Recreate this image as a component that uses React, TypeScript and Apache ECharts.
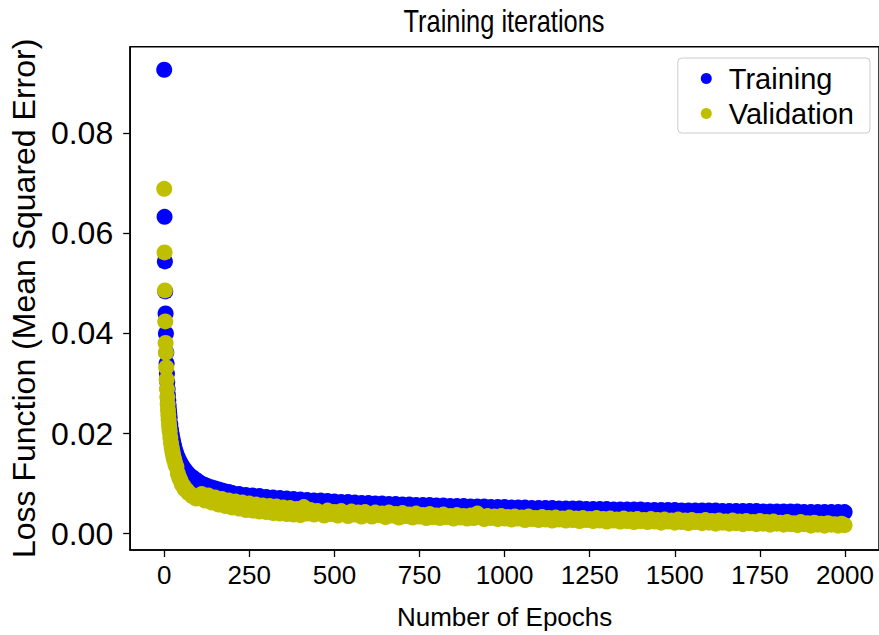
import React, { useEffect, useRef } from "react";
import * as echarts from "echarts";

// Training loss (blue) – epoch / value
const trainEpochs = [
  0, 1, 2, 3, 4, 5, 6, 7, 8, 9, 10, 11, 12, 13, 14, 15, 16, 18, 20, 22, 24, 26, 28, 30, 33, 36, 40, 44, 48, 52, 56, 60, 65, 70, 76, 82, 88, 94,
  100, 110, 120, 130, 140, 150, 160, 170, 180, 190, 200, 220, 240, 260, 280, 300, 320, 340, 360, 380, 400, 420, 440, 460, 480, 500,
  520, 540, 560, 580, 600, 620, 640, 660, 680, 700, 720, 740, 760, 780, 800, 820, 840, 860, 880, 900, 920, 940, 960, 980, 1000,
  1020, 1040, 1060, 1080, 1100, 1120, 1140, 1160, 1180, 1200, 1220, 1240, 1260, 1280, 1300, 1320, 1340, 1360, 1380, 1400,
  1420, 1440, 1460, 1480, 1500, 1520, 1540, 1560, 1580, 1600, 1620, 1640, 1660, 1680, 1700, 1720, 1740, 1760, 1780, 1800,
  1820, 1840, 1860, 1880, 1900, 1920, 1940, 1960, 1980, 1999,
];
const trainLoss = [
  0.0927, 0.0633, 0.0544, 0.0484, 0.044, 0.04, 0.0362, 0.034, 0.032, 0.0303, 0.0289, 0.0277, 0.0266, 0.0256, 0.0247, 0.0239, 0.0232, 0.0219, 0.0208, 0.0199, 0.0191, 0.0184, 0.0178, 0.0172, 0.0165, 0.0159, 0.0152, 0.0146, 0.0141, 0.0136, 0.0132, 0.0128, 0.0124, 0.012, 0.0116, 0.0113, 0.011, 0.0107,
  0.0104, 0.01, 0.0097, 0.0094, 0.0092, 0.009, 0.0088, 0.0086, 0.0084, 0.0083, 0.0081, 0.0079, 0.0077, 0.0076, 0.0075, 0.0073, 0.0072, 0.0071, 0.007, 0.0069, 0.0068, 0.0067, 0.0066, 0.0066, 0.0065, 0.0064,
  0.0063, 0.0063, 0.0062, 0.0061, 0.0061, 0.006, 0.006, 0.0059, 0.0059, 0.0058, 0.0058, 0.0057, 0.0057, 0.0057, 0.0056, 0.0056, 0.0055, 0.0055, 0.0055, 0.0054, 0.0054, 0.0054, 0.0053, 0.0053, 0.0053,
  0.0052, 0.0052, 0.0052, 0.0051, 0.0051, 0.0051, 0.0051, 0.005, 0.005, 0.005, 0.005, 0.0049, 0.0049, 0.0049, 0.0049, 0.0048, 0.0048, 0.0048, 0.0048, 0.0048,
  0.0047, 0.0047, 0.0047, 0.0047, 0.0047, 0.0046, 0.0046, 0.0046, 0.0046, 0.0046, 0.0046, 0.0045, 0.0045, 0.0045, 0.0045, 0.0045, 0.0045, 0.0044, 0.0044, 0.0044,
  0.0044, 0.0044, 0.0044, 0.0043, 0.0043, 0.0043, 0.0043, 0.0043, 0.0043, 0.0043,
];

// Validation loss (olive) – epoch / value
const valEpochs = [
  0, 1, 2, 3, 4, 5, 6, 7, 8, 9, 10, 11, 12, 13, 14, 15, 16, 18, 20, 22, 24, 26, 28, 30, 33, 36, 40, 44, 48, 52, 56, 60, 65, 70, 76, 82, 88, 94,
  100, 110, 120, 130, 140, 150, 160, 170, 180, 190, 200, 210, 220, 230, 240, 250, 260, 270, 280, 290, 300, 310, 320, 330, 340, 350, 360, 370, 380, 390, 400, 410,
  420, 430, 440, 450, 460, 470, 480, 490, 500, 510, 520, 530, 540, 550, 560, 570, 580, 590, 600, 610, 620, 630, 640, 650, 660, 670, 680, 690,
  700, 710, 720, 730, 740, 750, 760, 770, 780, 790, 800, 810, 820, 830, 840, 850, 860, 870, 880, 890, 900, 910, 920, 930, 940, 950, 960, 970, 980, 990,
  1000, 1010, 1020, 1030, 1040, 1050, 1060, 1070, 1080, 1090, 1100, 1110, 1120, 1130, 1140, 1150, 1160, 1170, 1180, 1190,
  1200, 1210, 1220, 1230, 1240, 1250, 1260, 1270, 1280, 1290, 1300, 1310, 1320, 1330, 1340, 1350, 1360, 1370, 1380, 1390,
  1400, 1410, 1420, 1430, 1440, 1450, 1460, 1470, 1480, 1490, 1500, 1510, 1520, 1530, 1540, 1550, 1560, 1570, 1580, 1590,
  1600, 1610, 1620, 1630, 1640, 1650, 1660, 1670, 1680, 1690, 1700, 1710, 1720, 1730, 1740, 1750, 1760, 1770, 1780, 1790,
  1800, 1810, 1820, 1830, 1840, 1850, 1860, 1870, 1880, 1890, 1900, 1910, 1920, 1930, 1940, 1950, 1960, 1970, 1980, 1990, 1999,
];
const valLoss = [
  0.0689, 0.0562, 0.0486, 0.0424, 0.0381, 0.0362, 0.0332, 0.0308, 0.0289, 0.0273, 0.0259, 0.0247, 0.0237, 0.0228, 0.0219, 0.0211, 0.0204, 0.0192, 0.0181, 0.0172, 0.0164, 0.0157, 0.0151, 0.0146, 0.0138, 0.0133, 0.012, 0.0112, 0.0106, 0.0098, 0.0096, 0.0089, 0.0088, 0.0082, 0.008, 0.0075, 0.0074, 0.007,
  0.0072, 0.0079, 0.0066, 0.0076, 0.0062, 0.0072, 0.0058, 0.0069, 0.0055, 0.0066, 0.0052, 0.0064, 0.005, 0.0062, 0.0047, 0.006, 0.0046, 0.0058, 0.0044, 0.0056, 0.0043, 0.0055, 0.0041, 0.0054, 0.004, 0.0052, 0.0039, 0.0051, 0.0038, 0.0049, 0.0037, 0.0053,
  0.004, 0.0047, 0.0038, 0.0045, 0.0041, 0.0036, 0.0046, 0.0039, 0.0043, 0.0036, 0.0045, 0.004, 0.0035, 0.0044, 0.0038, 0.0042, 0.0034, 0.0043, 0.0039, 0.0034, 0.0042, 0.0037, 0.004, 0.0033, 0.0042, 0.0036, 0.0039, 0.0032,
  0.0041, 0.0035, 0.0038, 0.0032, 0.004, 0.0034, 0.0037, 0.0031, 0.0039, 0.0033, 0.0036, 0.0031, 0.0038, 0.0033, 0.0035, 0.003, 0.0037, 0.0032, 0.0035, 0.003, 0.0036, 0.0031, 0.004, 0.0033, 0.0029, 0.0035, 0.0031, 0.0034, 0.0029, 0.0035,
  0.003, 0.0033, 0.0028, 0.0034, 0.003, 0.0032, 0.0027, 0.0034, 0.0029, 0.0031, 0.0027, 0.0033, 0.0028, 0.0031, 0.0026, 0.0032, 0.0028, 0.003, 0.0026, 0.0032,
  0.0027, 0.003, 0.0025, 0.0031, 0.0027, 0.0029, 0.0025, 0.0031, 0.0026, 0.0029, 0.0024, 0.003, 0.0026, 0.0028, 0.0024, 0.003, 0.0025, 0.0028, 0.0023, 0.0029,
  0.0025, 0.0027, 0.0023, 0.0029, 0.0024, 0.0027, 0.0022, 0.0028, 0.0024, 0.0026, 0.0022, 0.0028, 0.0023, 0.0026, 0.0021, 0.0027, 0.0023, 0.0025, 0.0021, 0.0027,
  0.0022, 0.0025, 0.002, 0.0026, 0.0022, 0.0024, 0.002, 0.0026, 0.0021, 0.0024, 0.0019, 0.0025, 0.0021, 0.0023, 0.0019, 0.0025, 0.002, 0.0023, 0.0018, 0.0024,
  0.002, 0.0022, 0.0018, 0.0023, 0.0019, 0.0021, 0.0017, 0.0023, 0.0019, 0.0021, 0.0016, 0.0022, 0.0018, 0.002, 0.0016, 0.0021, 0.0018, 0.0019, 0.0016, 0.002, 0.0017,
];

const xTicks = [0, 250, 500, 750, 1000, 1250, 1500, 1750, 2000];
const yTicks = [0, 0.02, 0.04, 0.06, 0.08];

const FONT = "'Liberation Sans', Arial, sans-serif";

export default function App() {
  const ref = useRef<HTMLDivElement>(null);
  useEffect(() => {
    document.body.style.margin = "0";
    const chart = echarts.init(ref.current!, null, { renderer: "svg" });
    const trainData = trainEpochs.map((e, i) => [e, trainLoss[i]]);
    const valData = valEpochs.map((e, i) => [e, valLoss[i]]);
    chart.setOption({
      animation: false,
      backgroundColor: "#ffffff",
      graphic: [
        {
          type: "text",
          x: 504,
          y: 21,
          scaleX: 0.82,
          style: {
            text: "Training iterations",
            fill: "#000",
            fontSize: 31,
            fontFamily: FONT,
            align: "center",
            verticalAlign: "middle",
          },
        },
      ],
      grid: {
        left: 127.3,
        top: 46.7,
        width: 753.5,
        height: 504,
        show: true,
        borderColor: "#000",
        borderWidth: 1.5,
        backgroundColor: "transparent",
      },
      legend: {
        right: 9,
        top: 58,
        orient: "vertical",
        data: [
          { name: "Training", icon: "circle" },
          { name: "Validation", icon: "circle" },
        ],
        itemWidth: 11,
        itemHeight: 11,
        itemGap: 6,
        padding: [6, 16, 5, 23],
        borderColor: "#cccccc",
        borderWidth: 1,
        borderRadius: 4,
        backgroundColor: "rgba(255,255,255,0.8)",
        textStyle: {
          fontSize: 29,
          lineHeight: 29,
          fontFamily: FONT,
          color: "#000",
          padding: [0, 0, 0, 12],
        },
      },
      xAxis: {
        type: "value",
        min: -100,
        max: 2100,
        axisLine: { show: true, onZero: false, lineStyle: { color: "#000", width: 1.5 } },
        axisTick: { show: true, length: 7, customValues: xTicks, lineStyle: { color: "#000", width: 1.3 } },
        axisLabel: {
          customValues: xTicks,
          color: "#000",
          fontSize: 26,
          fontFamily: FONT,
          margin: 12,
          formatter: (v: number) => String(v),
        },
        splitLine: { show: false },
        name: "Number of Epochs",
        nameLocation: "middle",
        nameGap: 54,
        nameTextStyle: { fontSize: 26, fontFamily: FONT, color: "#000" },
      },
      yAxis: {
        type: "value",
        min: -0.00327,
        max: 0.0973,
        axisLine: { show: true, onZero: false, lineStyle: { color: "#000", width: 1.5 } },
        axisTick: { show: true, length: 7, customValues: yTicks, lineStyle: { color: "#000", width: 1.3 } },
        axisLabel: {
          customValues: yTicks,
          color: "#000",
          fontSize: 32,
          fontFamily: FONT,
          margin: 17,
          formatter: (v: number) => v.toFixed(2),
        },
        splitLine: { show: false },
        name: "Loss Function (Mean Squared Error)",
        nameLocation: "middle",
        nameGap: 86,
        nameTextStyle: { fontSize: 32, fontFamily: FONT, color: "#000" },
      },
      series: [
        {
          name: "Training",
          type: "scatter",
          data: trainData,
          symbol: "circle",
          symbolSize: 16,
          itemStyle: { color: "#0000ff", opacity: 1 },
          silent: true,
          emphasis: { disabled: true },
        },
        {
          name: "Validation",
          type: "scatter",
          data: valData,
          symbol: "circle",
          symbolSize: 16,
          itemStyle: { color: "#bfbf00", opacity: 1 },
          silent: true,
          emphasis: { disabled: true },
        },
      ],
    });
    return () => chart.dispose();
  }, []);
  return <div ref={ref} style={{ width: 879, height: 635 }} />;
}
